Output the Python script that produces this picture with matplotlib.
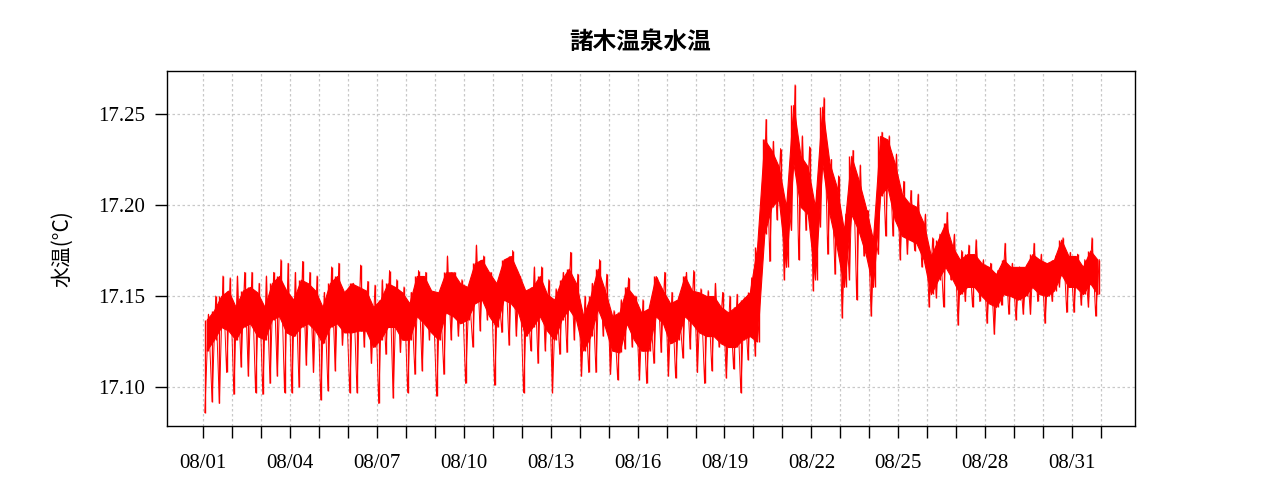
import matplotlib
matplotlib.use("Agg")
import matplotlib.pyplot as plt
import numpy as np

# 6-hourly readings, four bins per day, 08/01 .. 08/31
# extreme high / low of each bin
temp_hi = [
    17.140, 17.150, 17.161, 17.160,  17.161, 17.163, 17.163, 17.157,
    17.161, 17.163, 17.170, 17.168,  17.163, 17.169, 17.163, 17.161,
    17.152, 17.166, 17.168, 17.153,  17.157, 17.167, 17.158, 17.156,
    17.159, 17.164, 17.159, 17.155,  17.152, 17.164, 17.163, 17.152,
    17.152, 17.172, 17.163, 17.159,  17.153, 17.178, 17.172, 17.163,
    17.157, 17.170, 17.175, 17.161,  17.153, 17.166, 17.166, 17.159,
    17.154, 17.163, 17.174, 17.162,  17.150, 17.157, 17.170, 17.162,
    17.142, 17.148, 17.160, 17.150,  17.148, 17.144, 17.160, 17.163,
    17.152, 17.144, 17.163, 17.164,  17.154, 17.153, 17.157, 17.152,
    17.150, 17.151, 17.149, 17.160,  17.177, 17.247, 17.235, 17.231,
    17.205, 17.266, 17.238, 17.232,  17.208, 17.259, 17.225, 17.216,
    17.195, 17.230, 17.222, 17.197,  17.184, 17.240, 17.238, 17.228,
    17.213, 17.208, 17.206, 17.195,  17.182, 17.184, 17.196, 17.184,
    17.175, 17.178, 17.181, 17.170,  17.168, 17.164, 17.179, 17.168,
    17.166, 17.167, 17.179, 17.173,  17.168, 17.172, 17.182, 17.174,
    17.173, 17.170, 17.182, 17.170,
]
temp_lo = [
    17.086, 17.092, 17.091, 17.108,  17.096, 17.111, 17.106, 17.097,
    17.096, 17.102, 17.106, 17.097,  17.097, 17.100, 17.112, 17.108,
    17.093, 17.098, 17.109, 17.123,  17.097, 17.097, 17.122, 17.113,
    17.091, 17.118, 17.094, 17.119,  17.097, 17.107, 17.109, 17.126,
    17.095, 17.107, 17.126, 17.128,  17.102, 17.122, 17.131, 17.137,
    17.101, 17.130, 17.123, 17.128,  17.097, 17.120, 17.113, 17.120,
    17.097, 17.118, 17.119, 17.126,  17.106, 17.108, 17.108, 17.128,
    17.107, 17.104, 17.121, 17.122,  17.104, 17.102, 17.113, 17.119,
    17.106, 17.105, 17.116, 17.121,  17.108, 17.102, 17.109, 17.122,
    17.105, 17.110, 17.097, 17.115,  17.117, 17.183, 17.169, 17.192,
    17.159, 17.186, 17.170, 17.186,  17.153, 17.188, 17.173, 17.162,
    17.138, 17.159, 17.148, 17.172,  17.139, 17.173, 17.183, 17.183,
    17.170, 17.173, 17.175, 17.166,  17.144, 17.149, 17.144, 17.159,
    17.134, 17.147, 17.144, 17.147,  17.135, 17.129, 17.145, 17.140,
    17.137, 17.140, 17.140, 17.147,  17.135, 17.147, 17.155, 17.141,
    17.141, 17.145, 17.144, 17.139,
]
# range where most of the readings of each bin sit
core_hi = [
    17.137, 17.142, 17.150, 17.153,  17.144, 17.153, 17.155, 17.152,
    17.144, 17.157, 17.161, 17.153,  17.148, 17.159, 17.157, 17.153,
    17.144, 17.157, 17.161, 17.152,  17.157, 17.155, 17.153, 17.144,
    17.148, 17.157, 17.155, 17.152,  17.146, 17.161, 17.161, 17.153,
    17.152, 17.163, 17.163, 17.157,  17.155, 17.168, 17.170, 17.163,
    17.157, 17.170, 17.172, 17.163,  17.153, 17.155, 17.161, 17.151,
    17.148, 17.159, 17.165, 17.157,  17.139, 17.150, 17.165, 17.153,
    17.139, 17.141, 17.155, 17.150,  17.141, 17.143, 17.161, 17.153,
    17.146, 17.148, 17.161, 17.153,  17.152, 17.150, 17.150, 17.144,
    17.141, 17.144, 17.148, 17.152,  17.177, 17.236, 17.230, 17.221,
    17.199, 17.255, 17.227, 17.221,  17.199, 17.254, 17.223, 17.210,
    17.186, 17.227, 17.214, 17.199,  17.181, 17.238, 17.236, 17.223,
    17.206, 17.201, 17.199, 17.190,  17.172, 17.181, 17.190, 17.177,
    17.170, 17.173, 17.173, 17.168,  17.166, 17.162, 17.170, 17.166,
    17.166, 17.166, 17.173, 17.170,  17.168, 17.170, 17.181, 17.172,
    17.172, 17.166, 17.175, 17.170,
]
core_lo = [
    17.120, 17.126, 17.133, 17.131,  17.126, 17.133, 17.135, 17.128,
    17.126, 17.137, 17.139, 17.130,  17.128, 17.133, 17.135, 17.131,
    17.124, 17.133, 17.135, 17.130,  17.130, 17.131, 17.131, 17.122,
    17.126, 17.133, 17.133, 17.126,  17.126, 17.139, 17.135, 17.130,
    17.126, 17.141, 17.139, 17.135,  17.137, 17.146, 17.148, 17.139,
    17.133, 17.148, 17.146, 17.141,  17.128, 17.133, 17.139, 17.131,
    17.126, 17.137, 17.143, 17.137,  17.120, 17.128, 17.143, 17.133,
    17.120, 17.119, 17.135, 17.126,  17.120, 17.120, 17.139, 17.135,
    17.124, 17.126, 17.139, 17.135,  17.130, 17.128, 17.128, 17.124,
    17.122, 17.122, 17.126, 17.128,  17.125, 17.184, 17.199, 17.203,
    17.166, 17.223, 17.199, 17.195,  17.159, 17.223, 17.195, 17.177,
    17.155, 17.195, 17.186, 17.173,  17.155, 17.205, 17.210, 17.192,
    17.183, 17.181, 17.179, 17.170,  17.151, 17.159, 17.166, 17.159,
    17.151, 17.155, 17.155, 17.150,  17.146, 17.144, 17.151, 17.150,
    17.148, 17.150, 17.155, 17.151,  17.150, 17.153, 17.162, 17.155,
    17.155, 17.151, 17.157, 17.151,
]
day_labels = ["08/01", "08/04", "08/07", "08/10", "08/13", "08/16",
              "08/19", "08/22", "08/25", "08/28", "08/31"]
y_ticks = [17.10, 17.15, 17.20, 17.25]

# time axis in days since 08/01 00:00
n = len(temp_hi)
t_mid = np.arange(n) * 0.25 + 0.125
t_lo = np.arange(n) * 0.25 + 1.5 / 24
t_hi = np.arange(n) * 0.25 + 4.5 / 24

serif = "Liberation Serif"
jp = ["Noto Sans CJK JP", "DejaVu Sans"]
fig = plt.figure(figsize=(12.8, 5.0), dpi=100)
ax = fig.add_axes([0.1305, 0.148, 0.7562, 0.710])

grid_kw = dict(color="#c8c8c8", lw=0.9, ls=(0, (2, 2)), zorder=0)
for d in range(32):
    ax.axvline(d, **grid_kw)
for yv in y_ticks:
    ax.axhline(yv, **grid_kw)

red = "#ff0000"
ax.fill_between(t_mid, core_lo, core_hi, color=red, lw=0.8, zorder=2)
ax.vlines(t_lo, temp_lo, core_hi, color=red, lw=1.0, zorder=2)
ax.vlines(t_hi, core_lo, temp_hi, color=red, lw=1.0, zorder=2)
# raw series, alternating low and high of each bin
ax.plot(np.column_stack([t_lo, t_hi]).ravel(),
        np.column_stack([temp_lo, temp_hi]).ravel(),
        color=red, lw=0.7, zorder=2)

ax.set_xlim(-1.243, 32.17)
ax.set_ylim(17.0786, 17.2736)

ax.set_xticks(range(32))
ax.set_xticklabels([day_labels[d // 3] if d % 3 == 0 else "" for d in range(32)],
                   family=serif, fontsize=15)
ax.set_yticks(y_ticks)
ax.set_yticklabels(["%.2f" % y for y in y_ticks], family=serif, fontsize=15)
ax.tick_params(axis="x", length=8.5, width=1, pad=12)
ax.tick_params(axis="y", length=8.5, width=1, pad=7)

for s in ax.spines.values():
    s.set_linewidth(1)
    s.set_color("black")

ax.set_ylabel("水温(°C)", family=jp, fontsize=15, labelpad=18)
fig.suptitle("諸木温泉水温", family=jp, fontsize=17, fontweight="bold", y=0.94)

fig.savefig("out.png", dpi=100, facecolor="white")
